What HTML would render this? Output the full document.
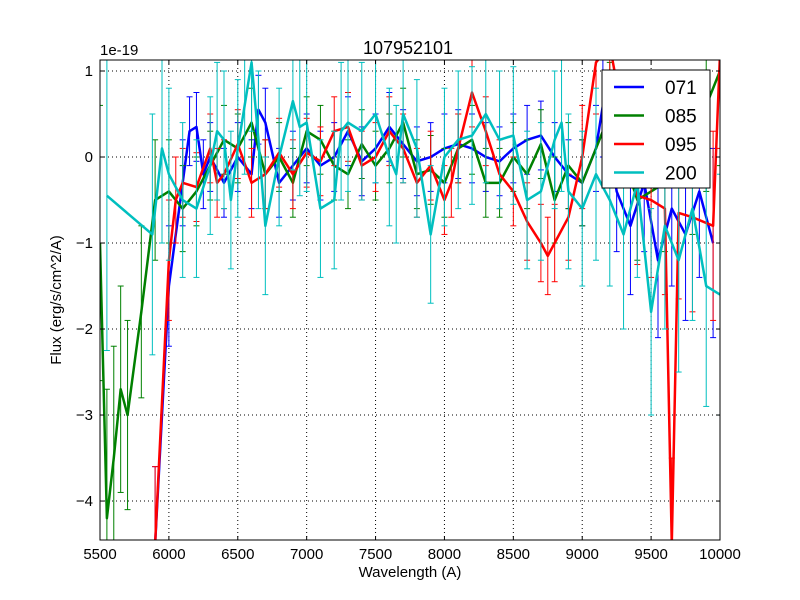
<!DOCTYPE html>
<html><head><meta charset="utf-8"><style>
html,body{margin:0;padding:0;background:#fff;width:800px;height:600px;overflow:hidden;}
svg{display:block;font-family:"Liberation Sans",sans-serif;}
</style></head><body>
<svg id="chart" width="800" height="600" viewBox="0 0 800 600">
<rect x="0" y="0" width="800" height="600" fill="#fff"/>
<defs><clipPath id="pc"><rect x="100" y="60" width="620" height="480"/></clipPath></defs>
<g id="grid"></g>
<g id="series" clip-path="url(#pc)"></g>
<rect x="100" y="60" width="620" height="480" fill="none" stroke="#000" stroke-width="1"/>
<g id="ticks"></g>
<text x="408" y="54" font-size="18" text-anchor="middle">107952101</text>
<text x="100" y="55" font-size="15">1e-19</text>
<text x="410" y="577" font-size="15" text-anchor="middle">Wavelength (A)</text>
<text x="61" y="300" font-size="15" text-anchor="middle" transform="rotate(-90 61 300)">Flux (erg/s/cm^2/A)</text>
<g id="legend"></g>
</svg>
<script>
const xTicks=[5500,6000,6500,7000,7500,8000,8500,9000,9500,10000];
const yTicks=[-4,-3,-2,-1,0,1];
const seriesNames=["071","085","095","200"];
const seriesColors=["#0000ff","#008000","#ff0000","#00bfbf"];
const wl071=[5900,6000,6100,6150,6200,6250,6300,6400,6500,6600,6650,6700,6800,6900,7000,7100,7200,7300,7400,7500,7600,7700,7800,7900,8000,8100,8200,8300,8400,8500,8600,8700,8800,8900,9000,9100,9150,9250,9350,9450,9550,9650,9750,9850,9950];
const v071=[-4.5,-1.5,-0.3,0.3,0.35,-0.2,0,-0.3,0,-0.2,0.55,0.4,-0.3,-0.1,0.1,-0.1,0,0.3,-0.05,0.1,0.35,0.15,-0.05,0,0.1,0.15,0.1,0,-0.05,0.1,0.2,0.25,0,-0.2,-0.3,0.1,0.6,-0.4,-0.8,-0.3,-1.2,-0.6,-0.9,-0.4,-1.0];
const e071=[0.9,0.7,0.5,0.4,0.4,0.4,0.4,0.4,0.4,0.4,0.4,0.4,0.4,0.4,0.4,0.4,0.4,0.4,0.4,0.4,0.4,0.4,0.4,0.4,0.4,0.4,0.4,0.4,0.4,0.4,0.4,0.4,0.4,0.4,0.5,0.5,0.6,0.7,0.8,0.8,0.9,0.9,1.0,1.0,1.1];
const wl085=[5500,5550,5600,5650,5700,5800,5900,6000,6100,6200,6300,6400,6500,6600,6700,6800,6900,7000,7100,7200,7300,7400,7500,7600,7700,7800,7900,8000,8100,8200,8300,8400,8500,8600,8700,8800,8900,9000,9200,9400,9600,9800,9900,10000];
const v085=[-1,-4.2,-3.5,-2.7,-3,-1.8,-0.5,-0.4,-0.6,-0.4,-0.1,0.2,0.1,0.4,-0.2,0,-0.3,0.3,0.2,-0.1,-0.2,0.15,-0.1,0.1,0.4,-0.2,-0.15,-0.3,0.1,0.2,-0.3,-0.3,0,-0.2,0.15,-0.5,-0.1,-0.3,0.5,-0.5,-0.3,0,0.6,1.0];
const e085=[1.6,1.5,1.3,1.2,1.1,1.0,0.7,0.6,0.5,0.4,0.4,0.4,0.4,0.4,0.4,0.4,0.4,0.4,0.4,0.4,0.4,0.4,0.4,0.4,0.4,0.4,0.4,0.4,0.4,0.4,0.4,0.4,0.4,0.4,0.4,0.5,0.5,0.5,0.6,0.7,0.8,0.9,1.0,1.1];
const wl095=[5900,6000,6050,6100,6200,6300,6350,6400,6500,6600,6700,6800,6900,7000,7100,7200,7300,7400,7500,7600,7700,7800,7900,8000,8050,8100,8200,8300,8400,8500,8600,8700,8750,8800,8900,9000,9100,9200,9400,9500,9600,9650,9700,9800,9950,10000];
const v095=[-4.5,-1.2,-0.5,-0.3,-0.35,0.1,-0.3,-0.2,0.15,-0.3,-0.2,0.05,-0.2,0.05,-0.05,0.3,0.35,-0.1,0,0.3,0.1,-0.3,-0.1,-0.5,-0.3,0.1,0.75,0.3,-0.2,-0.4,-0.75,-1.0,-1.15,-1.0,-0.7,0,1.1,1.3,-0.45,-0.5,-0.6,-4.5,-0.65,-0.7,-0.8,1.2];
const e095=[0.9,0.7,0.5,0.4,0.4,0.4,0.4,0.4,0.4,0.4,0.4,0.4,0.4,0.4,0.4,0.4,0.4,0.4,0.4,0.4,0.4,0.4,0.4,0.4,0.4,0.4,0.4,0.4,0.4,0.4,0.45,0.45,0.45,0.45,0.5,0.6,0.6,0.7,0.8,0.9,1.0,1.0,1.0,1.1,1.1,1.1];
const wl200=[5550,5880,5950,6000,6100,6200,6300,6350,6400,6450,6500,6550,6600,6650,6700,6800,6900,6950,7000,7100,7200,7250,7300,7400,7500,7600,7650,7700,7800,7900,8000,8100,8200,8300,8400,8500,8600,8700,8800,8850,8900,9000,9100,9200,9300,9400,9500,9600,9700,9800,9900,10000];
const v200=[-0.45,-0.9,0.1,-0.2,-0.5,-0.6,-0.1,0.3,0.2,-0.5,0.1,0.6,1.1,0.2,-0.8,0,0.65,0.35,0.4,-0.6,-0.5,0.3,0.4,0.3,0.5,0,-0.2,0.5,0.1,-0.9,0,0.2,0.25,0.5,0.2,0.25,-0.5,-0.4,0.2,0.4,-0.4,-0.6,-0.2,-0.5,-0.9,-0.3,-1.8,-0.8,-1.2,-0.6,-1.5,-1.6];
const e200=[1.8,1.4,1.1,1.0,0.9,0.8,0.8,0.8,0.8,0.8,0.8,0.8,0.8,0.8,0.8,0.8,0.8,0.8,0.8,0.8,0.8,0.8,0.8,0.8,0.8,0.8,0.8,0.8,0.8,0.8,0.8,0.8,0.8,0.8,0.8,0.8,0.8,0.8,0.8,0.8,0.9,0.9,1.0,1.0,1.1,1.1,1.2,1.2,1.3,1.3,1.4,1.4];

const NS="http://www.w3.org/2000/svg";
const X0=100,X1=720,Y0=60,Y1=540,XMIN=5500,XMAX=10000,YMIN=-4.453,YMAX=1.128;
function sx(v){return X0+(v-XMIN)/(XMAX-XMIN)*(X1-X0);}
function sy(v){return Y1-(v-YMIN)/(YMAX-YMIN)*(Y1-Y0);}
function mk(tag,parent,attrs){const e=document.createElementNS(NS,tag);for(const k in attrs)e.setAttribute(k,attrs[k]);parent.appendChild(e);return e;}
const grid=document.getElementById('grid'),ticks=document.getElementById('ticks'),ser=document.getElementById('series'),leg=document.getElementById('legend');
xTicks.forEach(t=>{const x=sx(t);
 const g=mk('line',grid,{x1:x,x2:x,y1:Y0,y2:Y1,stroke:'#000','stroke-dasharray':'1,3','stroke-width':1});
 
 
 mk('line',ticks,{x1:x,x2:x,y1:Y1,y2:Y1-4,stroke:'#000'});
 mk('line',ticks,{x1:x,x2:x,y1:Y0,y2:Y0+4,stroke:'#000'});
 const tx=mk('text',ticks,{x:x,y:Y1+19,'font-size':15,'text-anchor':'middle'});tx.textContent=t;
 
 
});
yTicks.forEach(t=>{const y=sy(t);
 const g=mk('line',grid,{x1:X0,x2:X1,y1:y,y2:y,stroke:'#000','stroke-dasharray':'1,3','stroke-width':1});
 
 
 mk('line',ticks,{x1:X0,x2:X0+4,y1:y,y2:y,stroke:'#000'});
 mk('line',ticks,{x1:X1,x2:X1-4,y1:y,y2:y,stroke:'#000'});
 const tx=mk('text',ticks,{x:X0-7,y:y+5,'font-size':15,'text-anchor':'end'});tx.textContent=(t<0?'\u2212':'')+Math.abs(t);
 
 
});
const all=[[wl071,v071,e071],[wl085,v085,e085],[wl095,v095,e095],[wl200,v200,e200]];
all.forEach((s,i)=>{const [w,v,e]=s,c=seriesColors[i];
 const g=mk('g',ser,{});
 
 
 w.forEach((x,j)=>{const px=sx(x),a=sy(v[j]+e[j]),b=sy(v[j]-e[j]);
  mk('line',g,{x1:px,x2:px,y1:a,y2:b,stroke:c,'stroke-width':1});
  mk('line',g,{x1:px-3,x2:px+3,y1:a,y2:a,stroke:c,'stroke-width':1});
  mk('line',g,{x1:px-3,x2:px+3,y1:b,y2:b,stroke:c,'stroke-width':1});
 });
 const p=mk('polyline',g,{points:w.map((x,j)=>sx(x)+','+sy(v[j])).join(' '),fill:'none',stroke:c,'stroke-width':2.5,'stroke-linejoin':'round'});
 
 
});
const lb=mk('rect',leg,{x:602,y:70,width:108,height:118,fill:'#fff',stroke:'#000'});
seriesNames.forEach((n,i)=>{const y=87+i*28.5;
 const ln=mk('line',leg,{x1:614,x2:644,y1:y,y2:y,stroke:seriesColors[i],'stroke-width':2.5});
 
 
 const t=mk('text',leg,{x:665,y:y+7,'font-size':19});t.textContent=n;
 
 
});
</script>
</body></html>
